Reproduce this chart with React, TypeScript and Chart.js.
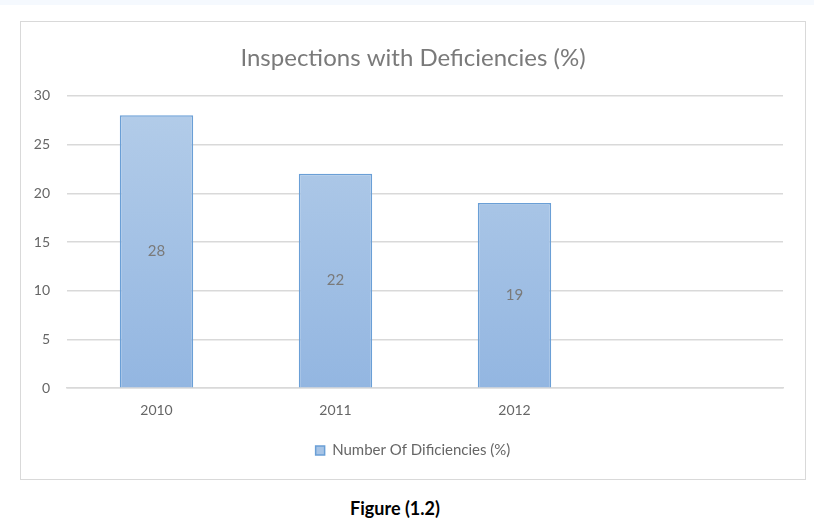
import React, { useEffect, useRef } from "react";
import { Chart, registerables } from "chart.js";

Chart.register(...registerables);

const categories = ["2010", "2011", "2012", ""];
const values: (number | null)[] = [28, 22, 19, null];
const seriesLabel = "Number Of Dificiencies (%)";
const chartTitle = "Inspections with Deficiencies (%)";
const caption = "Figure (1.2)";

const FONT = "Lato, 'Open Sans', sans-serif";

const valueLabels = {
  id: "valueLabels",
  afterDatasetsDraw(chart: any) {
    const ctx = chart.ctx;
    const meta = chart.getDatasetMeta(0);
    ctx.save();
    ctx.fillStyle = "#7a7a7a";
    ctx.font = `15px ${FONT}`;
    ctx.textAlign = "center";
    ctx.textBaseline = "middle";
    meta.data.forEach((bar: any, i: number) => {
      const v = values[i];
      if (v == null) return;
      const y = (bar.y + bar.base) / 2;
      ctx.fillText(String(v), bar.x, y);
    });
    ctx.restore();
  },
};

export default function App() {
  const ref = useRef<HTMLCanvasElement>(null);
  useEffect(() => {
    document.body.style.margin = "0";
    const canvas = ref.current!;
    const chart = new Chart(canvas, {
      type: "bar",
      data: {
        labels: categories,
        datasets: [
          {
            label: seriesLabel,
            data: values,
            backgroundColor: (c: any) => {
              const area = c.chart.chartArea;
              if (!area) return "#a7c4e6";
              const g = c.chart.ctx.createLinearGradient(0, area.top, 0, area.bottom);
              g.addColorStop(0, "#b4cde9");
              g.addColorStop(1, "#93b6e1");
              return g;
            },
            borderColor: "#6a9fd6",
            borderWidth: 1.5,
            barPercentage: 1,
            categoryPercentage: 0.41,
          },
        ],
      },
      options: {
        animation: false,
        responsive: false,
        layout: { padding: { left: 0, right: 0, top: 0, bottom: 11 } },
        plugins: {
          title: {
            display: true,
            text: chartTitle,
            color: "#7a7a7a",
            font: { family: FONT, size: 24, weight: "normal" },
            padding: { top: 22, bottom: 23 },
          },
          legend: {
            position: "bottom",
            labels: {
              boxWidth: 9,
              boxHeight: 9,
              color: "#666666",
              font: { family: FONT, size: 15 },
              padding: 10,
              generateLabels: () => [
                {
                  text: seriesLabel,
                  fillStyle: "#a7c4e6",
                  strokeStyle: "#6a9fd6",
                  lineWidth: 1.5,
                  datasetIndex: 0,
                  fontColor: "#666666",
                },
              ],
            },
          },
          tooltip: { enabled: false },
        },
        scales: {
          x: {
            grid: { display: false, drawTicks: false },
            border: { display: true, color: "#d9d9d9", width: 1.5 },
            ticks: { color: "#666666", font: { family: FONT, size: 14 }, padding: 14 },
          },
          y: {
            min: 0,
            max: 30,
            ticks: { stepSize: 5, color: "#666666", font: { family: FONT, size: 14 }, padding: 17 },
            grid: { color: "#d9d9d9", lineWidth: 1.5, drawTicks: false },
            border: { display: false },
            afterFit: (s: any) => {
              s.width = 46;
            },
          },
          yRightSpace: {
            position: "right",
            display: true,
            min: 0,
            max: 30,
            ticks: { display: false },
            grid: { display: false, drawTicks: false },
            border: { display: false },
            afterFit: (s: any) => {
              s.width = 22;
            },
          },
        },
      },
      plugins: [valueLabels],
    } as any);
    return () => chart.destroy();
  }, []);

  return (
    <div style={{ position: "relative", width: 814, height: 524, background: "#ffffff", fontFamily: FONT }}>
      <div style={{ position: "absolute", left: 0, top: 0, width: 814, height: 5, background: "#f5f9fe" }} />
      <div
        style={{
          position: "absolute",
          left: 20,
          top: 21,
          width: 784,
          height: 457,
          border: "1px solid #d9d9d9",
        }}
      >
        <canvas ref={ref} width={784} height={457} style={{ display: "block" }} />
      </div>
      <div
        style={{
          position: "absolute",
          left: 0,
          width: 814,
          top: 497,
          textAlign: "center",
          fontWeight: 700,
          fontSize: 18,
          color: "#000",
          transform: "translateX(-12px)",
        }}
      >
        {caption}
      </div>
    </div>
  );
}
